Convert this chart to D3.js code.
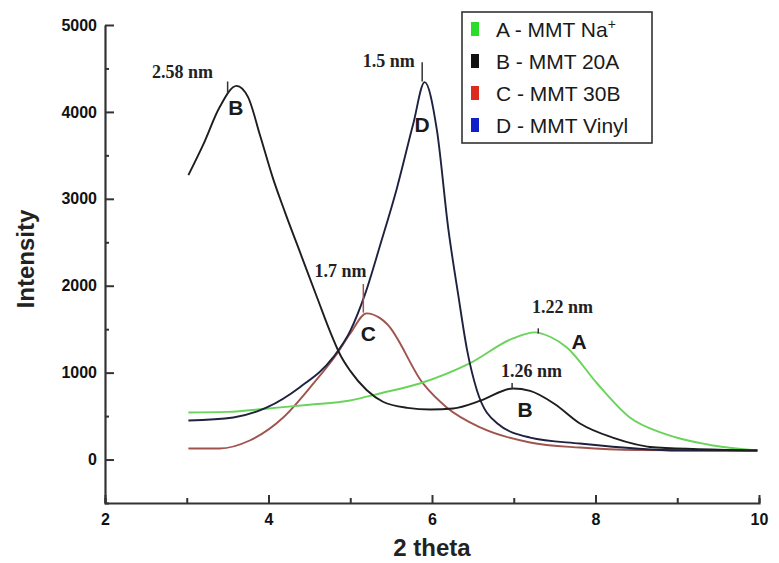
<!DOCTYPE html>
<html>
<head>
<meta charset="utf-8">
<script src="https://cdn.jsdelivr.net/npm/d3@7"></script>
<style>
  body { margin: 0; background: #fff; }
  svg { display: block; }
</style>
</head>
<body>
<div id="chart"></div>
<script>
// XRD patterns (2 theta vs intensity)
const thetaA = [3.02, 3.5, 4.0, 4.5, 5.0, 5.36, 5.85, 6.46, 6.99, 7.26, 7.45, 7.65, 8.02, 8.42, 8.83, 9.44, 9.98];
const intensityA = [541, 548, 588, 630, 680, 760, 875, 1106, 1394, 1463, 1410, 1290, 875, 484, 300, 161, 104];

const thetaB = [3.02, 3.2, 3.4, 3.61, 3.75, 3.9, 4.05, 4.2, 4.4, 4.6, 4.75, 4.88, 5.0, 5.2, 5.4, 5.7, 5.98, 6.26, 6.6, 6.99, 7.2, 7.5, 7.81, 8.21, 8.75, 9.98];
const intensityB = [3272, 3620, 4050, 4300, 4170, 3720, 3250, 2850, 2350, 1850, 1480, 1200, 1020, 800, 665, 595, 576, 588, 680, 818, 790, 640, 415, 253, 138, 104];

const thetaC = [3.02, 3.4, 3.77, 4.18, 4.55, 4.84, 5.0, 5.2, 5.36, 5.45, 5.89, 6.18, 6.59, 7.2, 7.81, 8.5, 9.98];
const intensityC = [127, 127, 219, 484, 876, 1221, 1450, 1682, 1630, 1560, 876, 600, 369, 196, 138, 110, 104];

const thetaD = [3.02, 3.57, 3.98, 4.38, 4.79, 5.0, 5.18, 5.37, 5.57, 5.77, 5.91, 6.06, 6.2, 6.32, 6.43, 6.55, 6.8, 7.2, 7.81, 9.03, 9.98];
const intensityD = [449, 484, 600, 830, 1175, 1480, 1900, 2480, 3120, 3860, 4343, 3790, 2650, 1900, 1256, 795, 415, 253, 184, 104, 104];

const seriesNames = ['A - MMT Na', 'B - MMT 20A', 'C - MMT 30B', 'D - MMT Vinyl'];
const lineColors = ['#6ad35c', '#1e1e1e', '#a0544e', '#1f2140'];
const swatchColors = ['#2bdc2b', '#111111', '#dd2a1e', '#1020c8'];

const xTicks = [2, 3, 4, 5, 6, 7, 8, 9, 10];
const yTicks = [0, 1000, 2000, 3000, 4000, 5000];
const yMinorTicks = [-500, 500, 1500, 2500, 3500, 4500];

// d-spacing annotations (anchor in data units)
const spacingLabels = ['2.58 nm', '1.5 nm', '1.7 nm', '1.22 nm', '1.26 nm'];
const spacingTextTheta = [3.32, 5.79, 5.2, 7.97, 7.59];
const spacingTextIntensity = [4389, 4516, 2097, 1682, 945];
const peakTickTheta = [3.5, 5.88, 5.16, 7.3, 6.98];
const peakTickFrom = [4210, 4350, 1690, 1450, 810];
const peakTickTo = [4350, 4570, 2020, 1510, 880];

const curveLetters = ['B', 'D', 'C', 'A', 'B'];
const letterTheta = [3.6, 5.88, 5.22, 7.8, 7.14];
const letterIntensity = [3963, 3767, 1359, 1267, 495];

const width = 779, height = 563;

const x = d3.scaleLinear().domain([2, 10]).range([105, 759]);
const y = d3.scaleLinear().domain([-500, 5000]).range([503, 25]);

const svg = d3.select('#chart').append('svg')
  .attr('width', width)
  .attr('height', height);

// axes
const axisColor = '#333';

const xAxis = svg.append('g')
  .attr('transform', `translate(0,${y(-500)})`)
  .call(d3.axisBottom(x).tickValues(xTicks).tickSizeOuter(0).tickPadding(11)
    .tickSize(-5).tickFormat(d => d % 2 === 0 ? d : ''));
xAxis.selectAll('.tick line')
  .attr('y2', d => d % 2 === 0 ? -8 : -5);

svg.append('g')
  .attr('transform', `translate(${x(2)},0)`)
  .call(d3.axisLeft(y).tickValues(yTicks).tickSize(-9).tickSizeOuter(0).tickPadding(8)
    .tickFormat(d3.format('d')));

svg.append('g')
  .attr('transform', `translate(${x(2)},0)`)
  .call(d3.axisLeft(y).tickValues(yMinorTicks).tickSize(-4).tickSizeOuter(0).tickFormat(''))
  .select('.domain').remove();

svg.selectAll('.domain').attr('stroke', axisColor).attr('stroke-width', 2.2);
svg.selectAll('.tick line').attr('stroke', axisColor).attr('stroke-width', 2);
svg.selectAll('.tick text')
  .attr('fill', '#111')
  .attr('font-family', 'Arial, "Liberation Sans", sans-serif')
  .attr('font-weight', 'bold')
  .attr('font-size', 16);

// axis titles
svg.append('text')
  .attr('x', 432)
  .attr('y', 556)
  .attr('text-anchor', 'middle')
  .attr('font-family', 'Arial, "Liberation Sans", sans-serif')
  .attr('font-weight', 'bold')
  .attr('font-size', 24)
  .attr('fill', '#222')
  .text('2 theta');

svg.append('text')
  .attr('transform', 'translate(34,259) rotate(-90)')
  .attr('text-anchor', 'middle')
  .attr('font-family', 'Arial, "Liberation Sans", sans-serif')
  .attr('font-weight', 'bold')
  .attr('font-size', 24)
  .attr('fill', '#222')
  .text('Intensity');

// curves
const line = d3.line()
  .x(d => x(d[0]))
  .y(d => y(d[1]))
  .curve(d3.curveMonotoneX);

const curves = [
  d3.zip(thetaA, intensityA),
  d3.zip(thetaB, intensityB),
  d3.zip(thetaC, intensityC),
  d3.zip(thetaD, intensityD),
];

// draw C and A under the black curves
[2, 0, 3, 1].forEach(i => {
  svg.append('path')
    .datum(curves[i])
    .attr('d', line)
    .attr('fill', 'none')
    .attr('stroke', lineColors[i])
    .attr('stroke-width', 1.9);
});

// peak ticks
svg.append('g')
  .selectAll('line')
  .data(peakTickTheta)
  .join('line')
  .attr('x1', d => x(d))
  .attr('x2', d => x(d))
  .attr('y1', (d, i) => y(peakTickFrom[i]))
  .attr('y2', (d, i) => y(peakTickTo[i]))
  .attr('stroke', (d, i) => i === 2 ? '#a0544e' : '#333')
  .attr('stroke-width', 1.5);

// d-spacing labels
svg.append('g')
  .selectAll('text')
  .data(spacingLabels)
  .join('text')
  .attr('x', (d, i) => x(spacingTextTheta[i]))
  .attr('y', (d, i) => y(spacingTextIntensity[i]))
  .attr('text-anchor', 'end')
  .attr('font-family', '"Liberation Serif", "Times New Roman", serif')
  .attr('font-weight', 'bold')
  .attr('font-size', 18)
  .attr('fill', '#222')
  .text(d => d);

// curve letters
svg.append('g')
  .selectAll('text')
  .data(curveLetters)
  .join('text')
  .attr('x', (d, i) => x(letterTheta[i]))
  .attr('y', (d, i) => y(letterIntensity[i]))
  .attr('text-anchor', 'middle')
  .attr('font-family', 'Arial, "Liberation Sans", sans-serif')
  .attr('font-weight', 'bold')
  .attr('font-size', 21)
  .attr('fill', '#1a1a1a')
  .text(d => d);

// legend
const legend = svg.append('g').attr('transform', 'translate(462,12)');
legend.append('rect')
  .attr('width', 190)
  .attr('height', 131)
  .attr('fill', '#fff')
  .attr('stroke', '#333')
  .attr('stroke-width', 1.6);

const rows = legend.selectAll('g.row')
  .data(seriesNames)
  .join('g')
  .attr('class', 'row')
  .attr('transform', (d, i) => `translate(0,${17 + i * 32})`);

rows.append('rect')
  .attr('x', 9)
  .attr('y', -7)
  .attr('width', 8)
  .attr('height', 14)
  .attr('fill', (d, i) => swatchColors[i]);

const labels = rows.append('text')
  .attr('x', 34)
  .attr('y', 7.5)
  .attr('font-family', 'Arial, "Liberation Sans", sans-serif')
  .attr('font-size', 21)
  .attr('fill', '#1a1a1a')
  .text(d => d);

labels.filter((d, i) => i === 0)
  .append('tspan')
  .attr('dy', -8)
  .attr('font-size', 14)
  .text('+');
</script>
</body>
</html>
